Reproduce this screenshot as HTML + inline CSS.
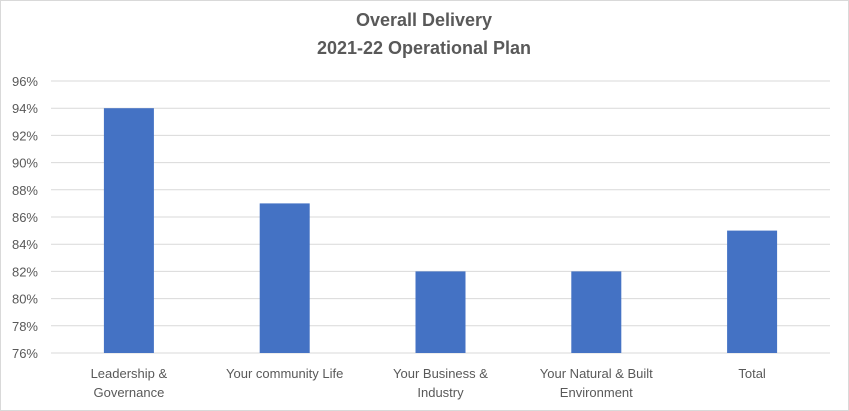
<!DOCTYPE html>
<html><head><meta charset="utf-8"><style>
html,body{margin:0;padding:0;background:#fff;}
svg{display:block;font-family:"Liberation Sans",Arial,sans-serif;}
</style></head><body>
<svg id="chart" width="849" height="411" viewBox="0 0 849 411">
<rect x="0.5" y="0.5" width="848" height="410" fill="#fff" stroke="#d9d9d9"/>
<text x="424" y="26" text-anchor="middle" font-size="18" font-weight="bold" fill="#595959">Overall Delivery</text>
<text x="424" y="54" text-anchor="middle" font-size="18" font-weight="bold" fill="#595959">2021-22 Operational Plan</text>
<g id="grid"></g><g id="bars"></g><g id="labels"></g>
</svg>
<script>
const categories=[["Leadership &","Governance"],["Your community Life"],["Your Business &","Industry"],["Your Natural & Built","Environment"],["Total"]];
const values=[94,87,82,82,85];
const ticks=[76,78,80,82,84,86,88,90,92,94,96];
const ns="http://www.w3.org/2000/svg";
const x0=51,x1=830,yMin=76,yMax=96,yBot=353,yTop=81;
const y=v=>yBot-(v-yMin)/(yMax-yMin)*(yBot-yTop);
const bw=(x1-x0)/categories.length;
const xc=i=>x0+bw*(i+0.5);
const grid=document.getElementById('grid'),bars=document.getElementById('bars'),labels=document.getElementById('labels');
ticks.forEach(t=>{
 const l=document.createElementNS(ns,'line');
 
 
 l.setAttribute('x1',x0);l.setAttribute('x2',x1);l.setAttribute('y1',y(t));l.setAttribute('y2',y(t));
 l.setAttribute('stroke',t===yMin?'#d9d9d9':'#d9d9d9');l.setAttribute('stroke-width','1');
 grid.appendChild(l);
 const tx=document.createElementNS(ns,'text');
 
 
 tx.setAttribute('x',38);tx.setAttribute('y',y(t)+5);tx.setAttribute('text-anchor','end');
 tx.setAttribute('font-size','13');tx.setAttribute('fill','#595959');
 tx.textContent=t+'%';labels.appendChild(tx);
});
values.forEach((v,i)=>{
 const r=document.createElementNS(ns,'rect');
 
 
 r.setAttribute('x',xc(i)-25);r.setAttribute('width',50);
 r.setAttribute('y',y(v));r.setAttribute('height',yBot-y(v));r.setAttribute('fill','#4472c4');
 bars.appendChild(r);
});
categories.forEach((c,i)=>{
 c.forEach((line,j)=>{
  const tx=document.createElementNS(ns,'text');
  
  
  tx.setAttribute('x',xc(i));tx.setAttribute('y',378+j*19);tx.setAttribute('text-anchor','middle');
  tx.setAttribute('font-size','13');tx.setAttribute('fill','#595959');
  tx.textContent=line;labels.appendChild(tx);
 });
});
</script>
</body></html>
